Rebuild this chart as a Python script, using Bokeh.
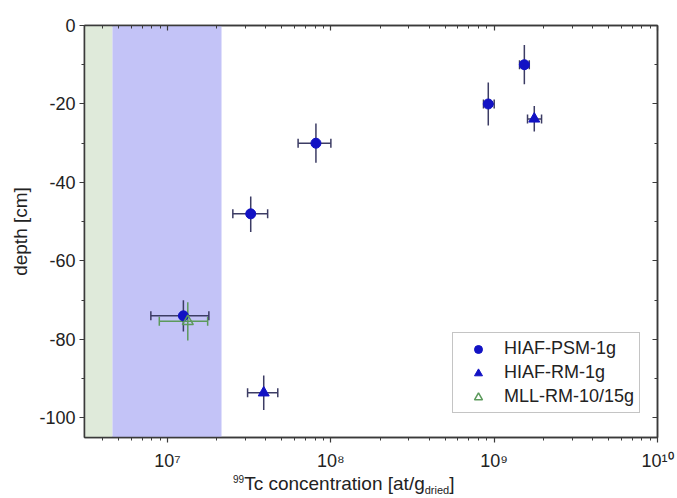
from bokeh.plotting import figure
from bokeh.layouts import column
from bokeh.models import (Range1d, LogAxis, LinearAxis, LogTicker, SingleIntervalTicker,
                          CustomJSTickFormatter, BoxAnnotation, Whisker, TeeHead, Div,
                          ColumnDataSource, Legend)
from bokeh.embed import file_html
from bokeh.resources import INLINE

# ---------------- data ----------------
# HIAF-PSM-1g (filled circles)
psm_x = [1.53e9, 9.2e8, 8.1e7, 3.23e7, 1.25e7]
psm_y = [-10.0, -20.0, -30.0, -48.0, -74.0]
psm_xlo = [1.43e9, 8.6e8, 6.3e7, 2.51e7, 7.9e6]
psm_xhi = [1.64e9, 1.0e9, 1.0e8, 4.1e7, 1.79e7]
psm_ylo = [-15.0, -25.5, -35.0, -52.6, -78.0]
psm_yhi = [-5.0, -14.5, -25.0, -43.6, -70.0]

# HIAF-RM-1g (filled triangles)
rm_x = [1.76e9, 3.88e7]
rm_y = [-23.8, -93.6]
rm_xlo = [1.6e9, 3.09e7]
rm_xhi = [1.95e9, 4.73e7]
rm_ylo = [-27.0, -98.0]
rm_yhi = [-20.5, -89.2]

# MLL-RM-10/15g (open triangle)
mll_x = [1.33e7]
mll_y = [-75.4]
mll_xlo = [8.9e6]
mll_xhi = [1.76e7]
mll_ylo = [-80.3]
mll_yhi = [-70.5]

# shaded bands (x extents)
band_left = [3.1e6, 4.6e6]
band_right = [4.6e6, 2.14e7]
band_colors = ["#dfeada", "#c3c3f7"]

x_range = (3.1e6, 1e10)
y_range = (-105, 0)

FONT = "Liberation Sans"
AX = "#3a3a3a"
TXT = "#222222"
BLUE = "#1212c4"
ERR = "#3c3c64"
GREEN = "#5c9a5c"

p = figure(x_axis_type="log", frame_width=573, frame_height=412,
           min_border_left=84, min_border_right=20, min_border_top=25, min_border_bottom=36,
           x_range=Range1d(*x_range), y_range=Range1d(*y_range),
           output_backend="svg", toolbar_location=None, background_fill_color="white",
           border_fill_color="white")
p.xgrid.visible = False
p.ygrid.visible = False
p.outline_line_color = AX
p.outline_line_width = 1.5

# bands
for l, r, c in zip(band_left, band_right, band_colors):
    p.add_layout(BoxAnnotation(left=l, right=r, fill_color=c, fill_alpha=1.0,
                               line_alpha=0, level="underlay"))

xfmt = CustomJSTickFormatter(code="""
const sup = {'0':'\u2070','1':'\u00b9','2':'\u00b2','3':'\u00b3','4':'\u2074','5':'\u2075',
             '6':'\u2076','7':'\u2077','8':'\u2078','9':'\u2079','-':'\u207b'};
const e = Math.round(Math.log10(tick));
return '10' + String(e).split('').map(c => sup[c]).join('');
""")
yfmt = CustomJSTickFormatter(code="return String(Math.round(tick));")
nofmt = CustomJSTickFormatter(code="return '';")

def style_axis(ax, inward=False):
    ax.axis_line_color = AX
    ax.axis_line_width = 1.5
    ax.major_tick_line_color = AX
    ax.minor_tick_line_color = AX
    ax.major_tick_line_width = 1.2
    ax.minor_tick_line_width = 1.0
    if inward:
        ax.major_tick_in, ax.major_tick_out = 5, 0
        ax.minor_tick_in, ax.minor_tick_out = 3, 0
    else:
        ax.major_tick_in, ax.major_tick_out = 0, 5
        ax.minor_tick_in, ax.minor_tick_out = 0, 3
    ax.major_label_text_font = FONT
    ax.major_label_text_font_size = "18px"
    ax.major_label_text_color = TXT
    ax.axis_label_text_font = FONT
    ax.axis_label_text_font_style = "normal"
    ax.axis_label_text_font_size = "19px"
    ax.axis_label_text_color = TXT

p.xaxis.ticker = LogTicker(num_minor_ticks=10)
p.xaxis.formatter = xfmt
p.xaxis.major_label_standoff = 8
style_axis(p.xaxis[0])
p.yaxis.ticker = SingleIntervalTicker(interval=20, num_minor_ticks=2)
p.yaxis.formatter = yfmt
p.yaxis.axis_label = "depth [cm]"
p.yaxis.major_label_standoff = 4
style_axis(p.yaxis[0])

top = LogAxis(ticker=LogTicker(num_minor_ticks=10), formatter=nofmt)
style_axis(top, inward=True)
p.add_layout(top, "above")
right = LinearAxis(ticker=SingleIntervalTicker(interval=20, num_minor_ticks=2), formatter=nofmt)
style_axis(right, inward=True)
p.add_layout(right, "right")

def errbars(xs, ys, xlo, xhi, ylo, yhi, color):
    src = ColumnDataSource(dict(x=xs, y=ys, xlo=xlo, xhi=xhi, ylo=ylo, yhi=yhi))
    p.segment(x0="x", y0="ylo", x1="x", y1="yhi", source=src, line_color=color, line_width=1.5)
    w = Whisker(base="y", lower="xlo", upper="xhi", dimension="width", source=src,
                line_color=color, line_width=1.5,
                lower_head=TeeHead(size=9, line_color=color, line_width=1.5),
                upper_head=TeeHead(size=9, line_color=color, line_width=1.5))
    p.add_layout(w)

errbars(mll_x, mll_y, mll_xlo, mll_xhi, mll_ylo, mll_yhi, GREEN)
errbars(psm_x, psm_y, psm_xlo, psm_xhi, psm_ylo, psm_yhi, ERR)
errbars(rm_x, rm_y, rm_xlo, rm_xhi, rm_ylo, rm_yhi, ERR)

r_psm = p.scatter(psm_x, psm_y, marker="circle", size=10, fill_color=BLUE, line_color=BLUE)
r_rm = p.scatter(rm_x, rm_y, marker="triangle", size=11, fill_color=BLUE, line_color=BLUE)
r_mll = p.scatter(mll_x, mll_y, marker="triangle", size=11, fill_color=None,
                  line_color=GREEN, line_width=1.5)

legend = Legend(items=[("HIAF-PSM-1g", [r_psm]), ("HIAF-RM-1g", [r_rm]),
                       ("MLL-RM-10/15g", [r_mll])],
                location=(368, 24), margin=0, padding=5, spacing=3,
                label_height=20, glyph_width=40, glyph_height=20, label_standoff=6,
                label_text_font=FONT, label_text_font_size="18px", label_text_color=TXT,
                border_line_color="#8a8a8a", border_line_width=1,
                background_fill_color="white", background_fill_alpha=1.0)
p.add_layout(legend, "center")

# x-axis title with superscript / subscript as real HTML text
xlabel = Div(
    text=('<span style="font-size:10px; position:relative; top:-7px;">99</span>'
          'Tc concentration [at/g'
          '<span style="font-size:11px; position:relative; top:4px;">dried</span>]'),
    width=677, height=25, margin=(0, 0, 0, 0),
    styles={"font-family": FONT, "font-size": "19px", "color": TXT,
            "line-height": "22px", "padding-left": "233px", "white-space": "nowrap"})

layout = column(p, xlabel, spacing=0)
open("out.html", "w").write(file_html(layout, INLINE))
